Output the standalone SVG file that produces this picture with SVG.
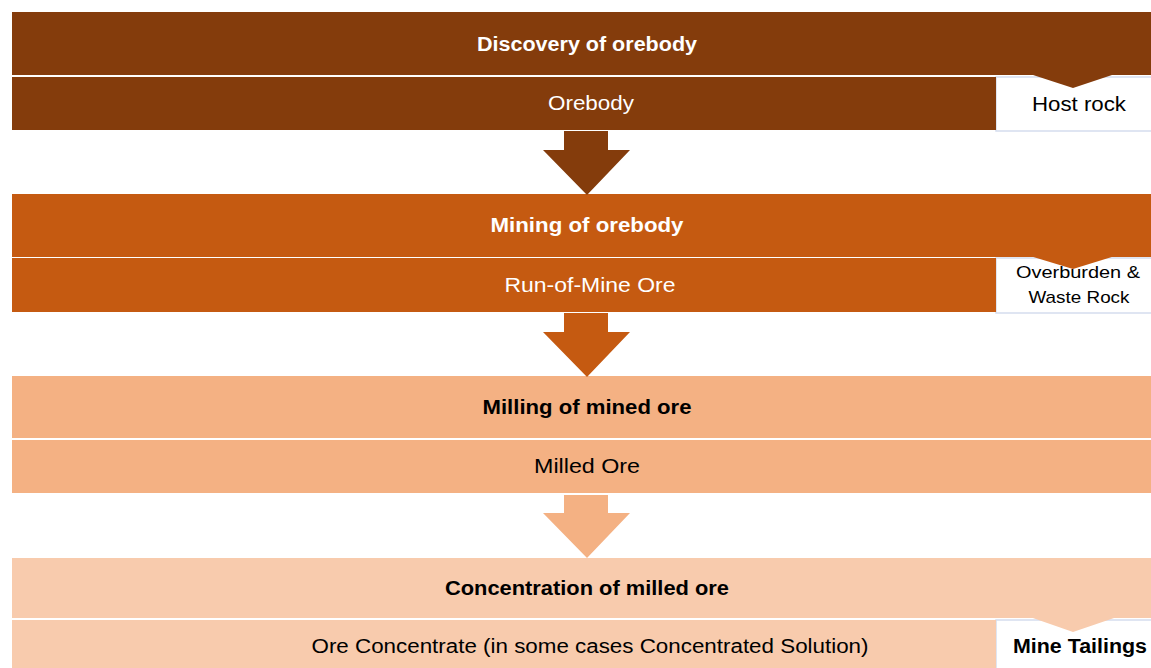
<svg xmlns="http://www.w3.org/2000/svg" width="1151" height="668" viewBox="0 0 1151 668">
<style>
text{font-family:"Liberation Sans","Open Sans",sans-serif;text-anchor:middle}
.hd{font-weight:bold;font-size:20px}
.rw{font-size:20px}
.w{fill:#ffffff}
.k{fill:#000000}
.side{fill:#ffffff;stroke:#D5DDEE;stroke-width:1.5}
.c1{fill:#843C0C}
.c2{fill:#C55A11}
.c3{fill:#F4B183}
.c4{fill:#F8CBAD}
.sep{stroke:#F2E6E0;stroke-width:1.5}
</style>
<rect width="1151" height="668" fill="#ffffff"/>
<g id="stage1">
  <rect class="side" x="996" y="77" width="156" height="54"/>
  <rect class="c1" x="12" y="12" width="1140" height="63"/>
  <polygon class="c1" points="1030,74 1115,74 1073,88"/>
  <rect class="c1" x="12" y="77" width="984" height="53"/>
  <text class="hd w" x="587" y="51" textLength="220" lengthAdjust="spacingAndGlyphs">Discovery of orebody</text>
  <text class="rw w" x="591" y="110" textLength="86" lengthAdjust="spacingAndGlyphs">Orebody</text>
  <text class="rw k" x="1079" y="111" textLength="94" lengthAdjust="spacingAndGlyphs">Host rock</text>
</g>
<g id="stage2">
  <rect class="side" x="996" y="258" width="156" height="55"/>
  <rect class="c2" x="12" y="194" width="1140" height="63"/>
  <polygon class="c2" points="1030,256 1115,256 1073,269"/>
  <rect class="c2" x="12" y="258" width="984" height="54"/>
  <text class="hd w" x="587" y="232" textLength="193" lengthAdjust="spacingAndGlyphs">Mining of orebody</text>
  <text class="rw w" x="590" y="292" textLength="171" lengthAdjust="spacingAndGlyphs">Run-of-Mine Ore</text>
  <text class="k" style="font-size:17px" x="1078" y="278" textLength="124" lengthAdjust="spacingAndGlyphs">Overburden &amp;</text>
  <text class="k" style="font-size:17px" x="1079" y="303" textLength="101" lengthAdjust="spacingAndGlyphs">Waste Rock</text>
</g>
<g id="stage3">
  <rect class="c3" x="12" y="376" width="1140" height="62"/>
  <rect class="c3" x="12" y="440" width="1140" height="53"/>
  <text class="hd k" x="587" y="414" textLength="209" lengthAdjust="spacingAndGlyphs">Milling of mined ore</text>
  <text class="rw k" x="587" y="473" textLength="106" lengthAdjust="spacingAndGlyphs">Milled Ore</text>
</g>
<g id="stage4">
  <rect class="side" x="996" y="620" width="156" height="50"/>
  <rect class="c4" x="12" y="558" width="1140" height="60"/>
  <polygon class="c4" points="1030,617 1117,617 1073,632"/>
  <rect class="c4" x="12" y="620" width="984" height="50"/>
  <text class="hd k" x="587" y="595" textLength="284" lengthAdjust="spacingAndGlyphs">Concentration of milled ore</text>
  <text class="rw k" x="590" y="653" textLength="557" lengthAdjust="spacingAndGlyphs">Ore Concentrate (in some cases Concentrated Solution)</text>
  <text class="hd k" x="1080" y="653" textLength="134" lengthAdjust="spacingAndGlyphs">Mine Tailings</text>
</g>
<g id="connectors">
  <polygon class="c1" points="564,131 608,131 608,150 630,150 587,195 543,150 564,150"/>
  <polygon class="c2" points="564,313 608,313 608,332 630,332 587,377 543,332 564,332"/>
  <polygon class="c3" points="564,495 608,495 608,513 630,513 587,558 543,513 564,513"/>
</g>
</svg>
